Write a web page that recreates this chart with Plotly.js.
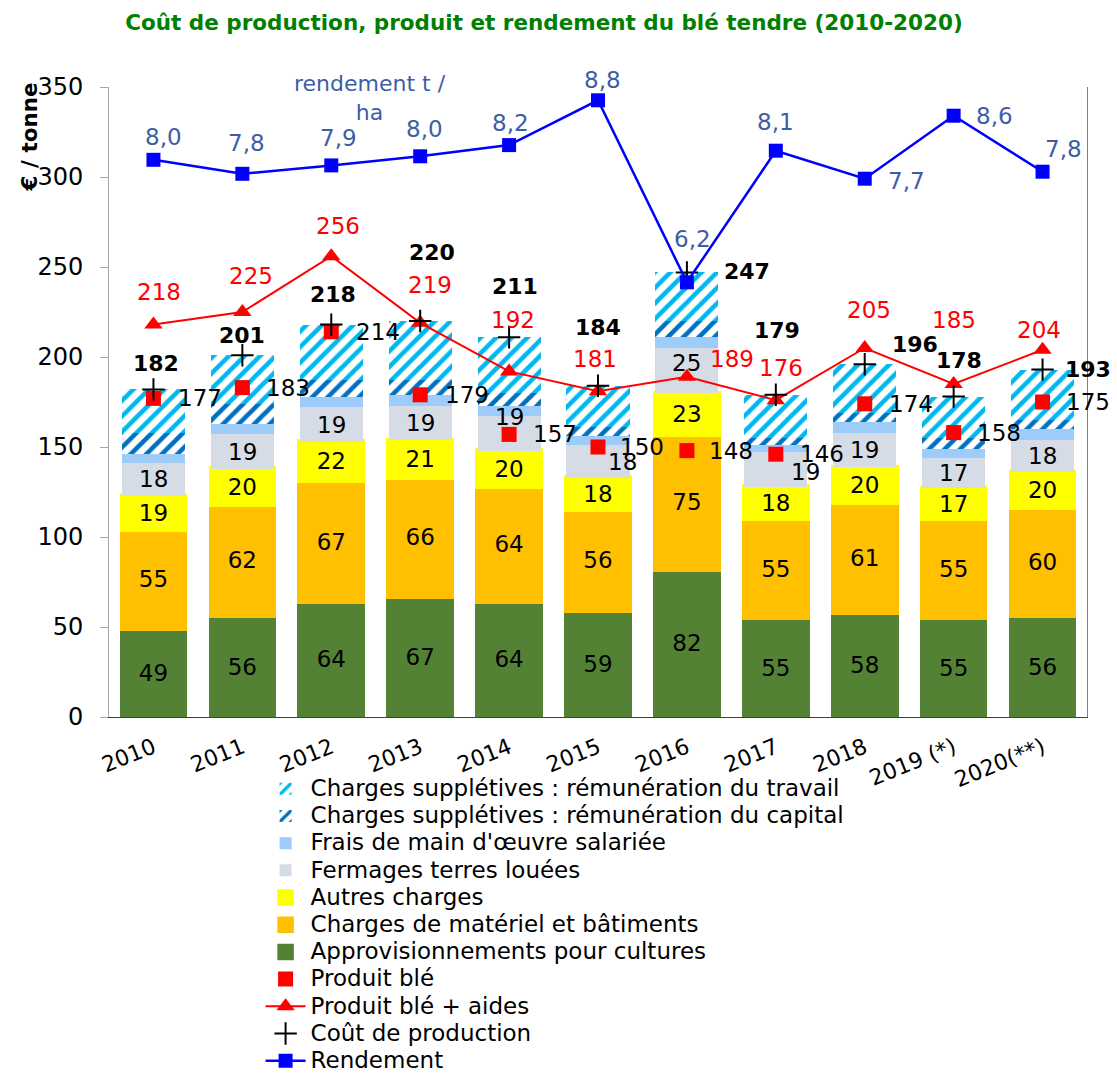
<!DOCTYPE html>
<html>
<head>
<meta charset="utf-8">
<script src="https://cdn.plot.ly/plotly-3.0.1.min.js"></script>
<style>html,body{margin:0;padding:0;background:#fff}</style>
</head>
<body>
<div id="chart" style="width:1117px;height:1073px"></div>
<script>
// ---------- data ----------
const years = ['2010','2011','2012','2013','2014','2015','2016','2017','2018','2019 (*)','2020(**)'];
const approvisionnements = [49, 56, 64, 67, 64, 59, 82, 55, 58, 55, 56];
const materiel          = [55, 62, 67, 66, 64, 56, 75, 55, 61, 55, 60];
const autres            = [19, 20, 22, 21, 20, 18, 23, 18, 20, 17, 20];
const fermages          = [18, 19, 19, 19, 19, 18, 25, 19, 19, 17, 18];
const mainOeuvre        = [5, 6, 6, 6, 6, 5, 6, 4, 6, 5, 6];
const remCapital        = [12, 11, 9, 8, 7, 5, 9, 4, 5, 6, 5];
const remTravail        = [24, 27, 31, 33, 31, 23, 27, 24, 27, 23, 28];
const produitBle        = [177, 183, 214, 179, 157, 150, 148, 146, 174, 158, 175];
const produitAides      = [218, 225, 256, 219, 192, 181, 189, 176, 205, 185, 204];
const coutProduction    = [182, 201, 218, 220, 211, 184, 247, 179, 196, 178, 193];
const rendement         = [7.96, 7.76, 7.88, 8.01, 8.17, 8.81, 6.21, 8.09, 7.69, 8.59, 7.79];

// ---------- label offsets (pixels, styling only) ----------
const coutShiftX = [3, 0, 2, 12, 6, 0, 60, 1, 50, 5, 45];
const coutShiftY = [26, 20, 30, 69, 51, 58, 1, 64, 20, 36, 0];
const aidesShiftX = [6, 9, 7, 10, 4, -3, 45, 5, 4, 0, -4];
const aidesShiftY = [33, 36, 30, 38, 51, 32, 18, 32, 38, 64, 20];
const rendShiftX = [10, 4, 7, 4, 1, 4, 6, 0, 42, 41, 21];
const rendShiftY = [23, 31, 27, 27, 22, 20, 43, 29, -2, 0, 23];
const bleShiftX = [47, 46, 47, 47, 46, 44, 44, 46, 46, 45, 45];
const fermShiftX = [0, 0, 0, 0, 0, 24, 0, 30, 0, 0, 0];
const fermShiftY = [0, 0, 0, 0, 17, -1, 8, -2, 0, 0, 0];

const FONT = 'DejaVu Sans, Verdana, sans-serif';
const LBL = 23;
const LEG = 23;
const legName = (s) => '<span style="font-size:' + LEG + 'px">' + s + '</span>';

function stackBar(name, vals, color, rank, opts) {
  const t = {
    type: 'bar', name: legName(name), x: years, y: vals, legendrank: rank,
    marker: {color: color, line: {width: 0}},
    hoverinfo: 'skip', cliponaxis: false
  };
  return Object.assign(t, opts || {});
}

const inTxt = (vals) => ({
  text: vals.map(String), textposition: 'inside', insidetextanchor: 'middle',
  textangle: 0, constraintext: 'none',
  textfont: {family: FONT, size: LBL, color: '#000'}
});

const traces = [
  Object.assign(stackBar('Approvisionnements pour cultures', approvisionnements, '#548235', 7), inTxt(approvisionnements),
    {marker: {color: '#548235', line: {color: '#548235', width: 4.5}}}),
  Object.assign(stackBar('Charges de matériel et bâtiments', materiel, '#FFC000', 6), inTxt(materiel),
    {marker: {color: '#FFC000', line: {color: '#FFC000', width: 4.5}}}),
  Object.assign(stackBar('Autres charges', autres, '#FFFF00', 5), inTxt(autres),
    {marker: {color: '#FFFF00', line: {color: '#FFFF00', width: 4.5}}}),
  stackBar('Fermages terres louées', fermages, '#D6DCE5', 4),
  stackBar("Frais de main d'œuvre salariée", mainOeuvre, '#9DCBFA', 3),
  stackBar('Charges supplétives : rémunération du capital', remCapital, '#FFFFFF', 2,
    {marker: {color: '#FFFFFF', line: {width: 0},
      pattern: {shape: '/', fgcolor: '#0070C0', bgcolor: '#FFFFFF', size: 11, solidity: 0.42}}}),
  stackBar('Charges supplétives : rémunération du travail', remTravail, '#FFFFFF', 1,
    {marker: {color: '#FFFFFF', line: {width: 0},
      pattern: {shape: '/', fgcolor: '#00B8F0', bgcolor: '#FFFFFF', size: 11, solidity: 0.42}}}),
  {type: 'scatter', mode: 'markers', name: legName('Produit blé'), x: years, y: produitBle, legendrank: 8,
   marker: {symbol: 'square', size: 15, color: '#FF0000'}, hoverinfo: 'skip'},
  {type: 'scatter', mode: 'lines+markers', name: legName('Produit blé + aides'), x: years, y: produitAides, legendrank: 9,
   line: {color: '#FF0000', width: 2}, marker: {symbol: 'triangle-up', size: 16, color: '#FF0000'}, hoverinfo: 'skip'},
  {type: 'scatter', mode: 'markers', name: legName('Coût de production'), x: years, y: coutProduction, legendrank: 10,
   marker: {symbol: 'cross-thin-open', size: 16, color: '#000', line: {color: '#000', width: 2}}, hoverinfo: 'skip'},
  {type: 'scatter', mode: 'lines+markers', name: legName('Rendement'), x: years, y: rendement, yaxis: 'y2', legendrank: 11,
   line: {color: '#0000FF', width: 2.5}, marker: {symbol: 'square', size: 14, color: '#0000FF'}, hoverinfo: 'skip'}
];

// ---------- annotations built from data (x given as category index) ----------
const annotations = [];
function labels(vals, yref, fmt, sx, sy, font) {
  vals.forEach((v, i) => {
    annotations.push({x: i, y: v, xref: 'x', yref: yref, text: fmt(v), showarrow: false,
      xanchor: 'center', yanchor: 'middle', xshift: sx[i], yshift: sy[i], font: font});
  });
}
labels(coutProduction, 'y', v => '<b>' + v + '</b>', coutShiftX, coutShiftY, {family: FONT, size: 22, color: '#000'});
labels(produitAides, 'y', v => String(v), aidesShiftX, aidesShiftY, {family: FONT, size: LBL, color: '#FF0000'});
labels(produitBle, 'y', v => String(v), bleShiftX, years.map(() => 0), {family: FONT, size: LBL, color: '#000'});
labels(rendement, 'y2', v => v.toFixed(1).replace('.', ','), rendShiftX, rendShiftY, {family: FONT, size: LBL, color: '#3D5EA6'});
fermages.forEach((v, i) => {
  const base = approvisionnements[i] + materiel[i] + autres[i];
  annotations.push({x: i, y: base + v / 2, xref: 'x', yref: 'y', text: String(v), showarrow: false,
    xanchor: 'center', yanchor: 'middle', xshift: fermShiftX[i], yshift: fermShiftY[i],
    font: {family: FONT, size: LBL, color: '#000'}});
});
annotations.push({xref: 'paper', yref: 'paper', x: 0, xshift: -80, y: 0.92, text: '<b>€ / tonne</b>',
  textangle: -90, showarrow: false, xanchor: 'center', yanchor: 'middle',
  font: {family: FONT, size: 21.5, color: '#000'}});
annotations.push({xref: 'paper', yref: 'paper', x: 0.2666, y: 0.983, text: 'rendement t /<br>ha',
  showarrow: false, xanchor: 'center', yanchor: 'middle', align: 'center',
  font: {family: FONT, size: 22, color: '#3D5EA6'}});

const layout = {
  width: 1117, height: 1073,
  margin: {l: 109, r: 30, t: 87, b: 356, pad: 0, autoexpand: false},
  paper_bgcolor: '#fff', plot_bgcolor: '#fff',
  font: {family: FONT, size: LBL, color: '#000'},
  title: {text: '<b>Coût de production, produit et rendement du blé tendre (2010-2020)</b>',
    x: 544 / 1117, xref: 'container', xanchor: 'center', y: 1 - 22 / 1073, yref: 'container', yanchor: 'middle',
    font: {family: FONT, size: 21.5, color: '#008000'}},
  barmode: 'stack', bargap: 0.29,
  showlegend: true,
  legend: {x: 0.155, xanchor: 'left', y: -0.0845, yanchor: 'top', orientation: 'v',
    bgcolor: 'rgba(0,0,0,0)', font: {family: FONT, size: 18.6, color: '#000'},
    traceorder: 'normal', itemwidth: 40, tracegroupgap: 0},
  xaxis: {type: 'category', range: [-0.5, 10.5], autorange: false, tickangle: -22, ticklabelstandoff: 8,
    showline: true, linecolor: '#404040', linewidth: 1.3,
    ticks: '', showgrid: false, zeroline: false, tickfont: {family: FONT, size: 22, color: '#000'}},
  yaxis: {range: [0, 350], autorange: false, dtick: 50, ticks: 'outside', ticklen: 8, tickcolor: '#A6A6A6',
    ticklabelstandoff: 12,
    showline: true, linecolor: '#A6A6A6', showgrid: false, zeroline: false,
    tickfont: {family: FONT, size: 24, color: '#000'}},
  yaxis2: {range: [0, 9], autorange: false, overlaying: 'y', side: 'right', showticklabels: false, ticks: '',
    showline: true, linecolor: '#7070FF', showgrid: false, zeroline: false},
  annotations: annotations
};

Plotly.newPlot('chart', traces, layout, {displayModeBar: false, staticPlot: true});
</script>
</body>
</html>
